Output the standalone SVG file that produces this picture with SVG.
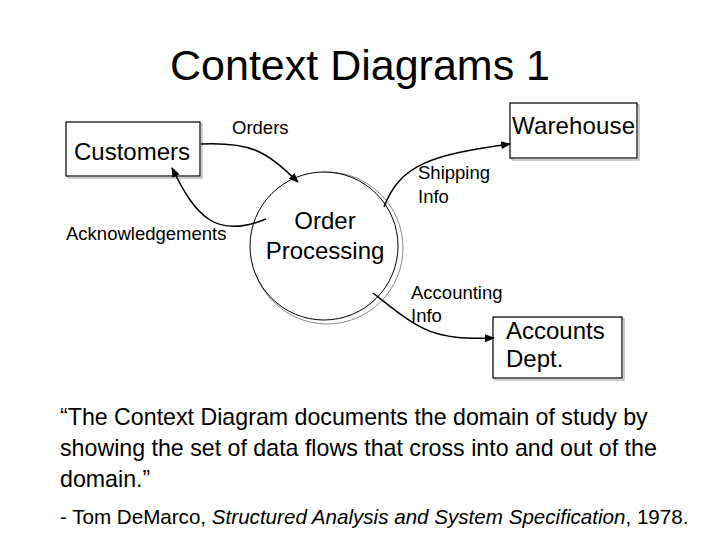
<svg xmlns="http://www.w3.org/2000/svg" width="720" height="540" viewBox="0 0 720 540">
<style>
text{font-family:"Liberation Sans",Arial,sans-serif;fill:#000}
.box{fill:#fff;stroke:#000;stroke-width:1.2}
.sh{fill:none;stroke:#999;stroke-width:1}
.lbl{font-size:18.5px}
.big{font-size:24px}
.flow{fill:none;stroke:#000;stroke-width:1.5;marker-end:url(#ah)}
</style>
<defs><marker id="ah" markerWidth="10" markerHeight="8" refX="9" refY="4" orient="auto" markerUnits="userSpaceOnUse"><path d="M0,0L10,4L0,8z" fill="#000"/></marker></defs>
<rect width="720" height="540" fill="#fff"/>
<text x="360" y="80" font-size="43" text-anchor="middle">Context Diagrams 1</text>
<g id="customers"><rect class="sh" x="68" y="124" width="134" height="54"/><rect class="box" x="66" y="122" width="134" height="54"/><text class="big" x="74" y="160">Customers</text></g>
<g id="warehouse"><rect class="sh" x="512" y="105" width="127" height="55"/><rect class="box" x="510" y="103" width="127" height="55"/><text class="big" x="512" y="134" textLength="123">Warehouse</text></g>
<g id="accounts"><rect class="sh" x="495" y="319" width="129" height="61"/><rect class="box" x="493" y="317" width="129" height="61"/><text class="big" x="506" y="339">Accounts</text><text class="big" x="506" y="367">Dept.</text></g>
<g id="process"><circle cx="327" cy="248" r="76" fill="none" stroke="#888" stroke-width="1"/><circle cx="324" cy="246" r="74" fill="#fff" stroke="#000" stroke-width="1"/><text class="big" x="325" y="229" text-anchor="middle">Order</text><text class="big" x="325" y="259" text-anchor="middle">Processing</text></g>
<g id="connectors">
<path class="flow" d="M201,144 C250,142 265,150 298,182"/>
<path class="flow" d="M266,219 C215,240 195,215 172,168"/>
<path class="flow" d="M384,207 C400,165 430,155 510,144"/>
<path class="flow" d="M373,293 C420,330 430,340 494,338"/>
</g>
<text class="lbl" x="232" y="134">Orders</text>
<text class="lbl" x="66" y="240">Acknowledgements</text>
<text class="lbl" x="418" y="179">Shipping</text><text class="lbl" x="418" y="203">Info</text>
<text class="lbl" x="411" y="299">Accounting</text><text class="lbl" x="411" y="322">Info</text>
<text font-size="23.2" x="60" y="425">“The Context Diagram documents the domain of study by</text>
<text font-size="23.2" x="60" y="456">showing the set of data flows that cross into and out of the</text>
<text font-size="23.2" x="60" y="487">domain.”</text>
<text font-size="20.6" x="60" y="524">- Tom DeMarco, <tspan font-style="italic">Structured Analysis and System Specification</tspan>, 1978.</text>
</svg>
